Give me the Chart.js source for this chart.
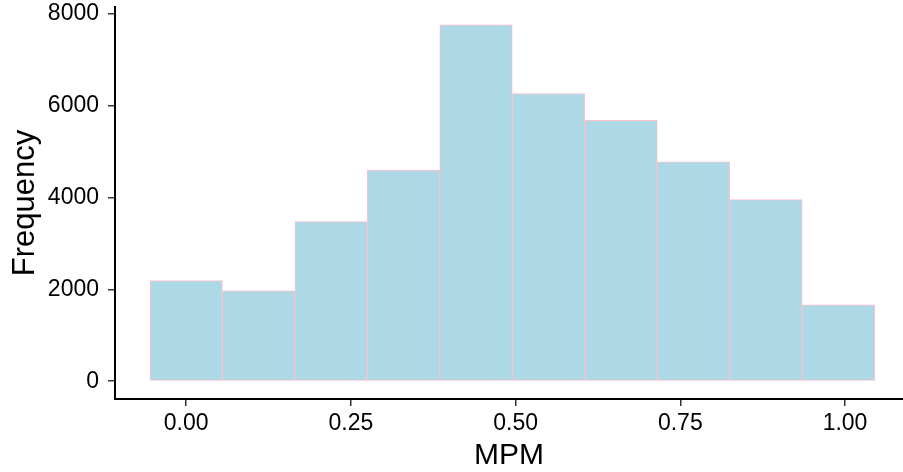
<!DOCTYPE html>
<html>
<head>
<meta charset="utf-8">
<script src="https://cdn.jsdelivr.net/npm/chart.js@4/dist/chart.umd.min.js"></script>
<style>
  html, body { margin: 0; padding: 0; background: #fff; }
  #wrap { width: 903px; height: 472px; }
</style>
</head>
<body>
<div id="wrap"><canvas id="c" width="903" height="472"></canvas></div>
<script>
// Histogram bin centres (MPM) and counts
const binCenters = [0.00, 0.11, 0.22, 0.33, 0.44, 0.55, 0.66, 0.77, 0.88, 0.99];
const counts = [2190, 1965, 3475, 4595, 7760, 6265, 5680, 4775, 3955, 1660];
const xTickValues = [0.00, 0.25, 0.50, 0.75, 1.00];
const yTickValues = [0, 2000, 4000, 6000, 8000];
const xTitle = 'MPM';
const yTitle = 'Frequency';

const points = binCenters.map((x, i) => ({ x: x, y: counts[i] }));
const FONT = '"Liberation Sans", Arial, sans-serif';

new Chart(document.getElementById('c'), {
  type: 'bar',
  data: {
    datasets: [{
      data: points,
      backgroundColor: '#ADD8E6',
      borderColor: '#FFC0CB',
      borderWidth: 1,
      borderSkipped: false,
      barPercentage: 1,
      categoryPercentage: 1
    }]
  },
  options: {
    responsive: false,
    animation: false,
    layout: { padding: { left: 0, right: 0, top: 7, bottom: 0 } },
    plugins: { legend: { display: false }, tooltip: { enabled: false } },
    scales: {
      x: {
        type: 'linear',
        offset: false,
        min: -0.108,
        max: 1.088,
        afterFit: (s) => { s.height = 73; s.paddingLeft = 0; s.paddingRight = 0; },
        afterBuildTicks: (s) => { s.ticks = xTickValues.map(v => ({ value: v })); },
        grid: { display: true, offset: false, drawOnChartArea: false, drawTicks: true, tickLength: 7, color: '#333333', lineWidth: 1.5 },
        border: { display: true, color: '#000000', width: 2 },
        ticks: {
          color: '#000000',
          font: { family: FONT, size: 23 },
          padding: 4,
          maxRotation: 0,
          autoSkip: false,
          callback: (v) => Number(v).toFixed(2)
        },
        title: {
          display: true,
          text: xTitle,
          color: '#000000',
          font: { family: FONT, size: 30, lineHeight: 1.1 },
          padding: { top: 0, bottom: 0 }
        }
      },
      y: {
        type: 'linear',
        min: -388,
        max: 8148,
        afterFit: (s) => { s.width = 115; s.paddingTop = 0; s.paddingBottom = 0; },
        afterBuildTicks: (s) => { s.ticks = yTickValues.map(v => ({ value: v })); },
        grid: { display: true, drawOnChartArea: false, drawTicks: true, tickLength: 7, color: '#333333', lineWidth: 1.5 },
        border: { display: true, color: '#000000', width: 2 },
        ticks: {
          color: '#000000',
          font: { family: FONT, size: 23 },
          padding: 9,
          autoSkip: false,
          callback: (v) => String(v)
        },
        title: {
          display: true,
          text: yTitle,
          color: '#000000',
          font: { family: FONT, size: 31, lineHeight: 1.2 },
          padding: { top: 7, bottom: 0 }
        }
      }
    }
  }
});
</script>
</body>
</html>
